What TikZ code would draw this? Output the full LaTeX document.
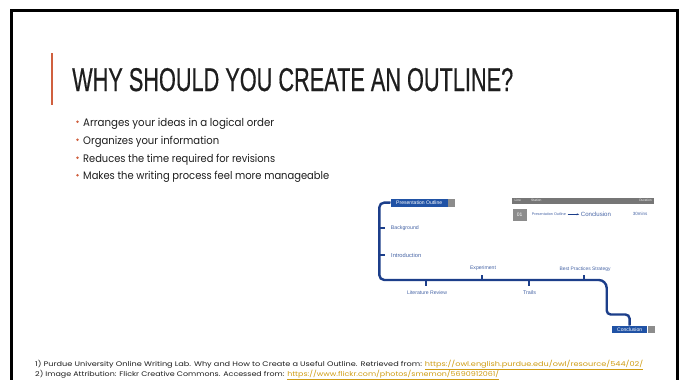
\documentclass[tikz,border=0pt]{standalone}
\usepackage{fontspec}
\setmainfont{Poppins}
\newfontfamily\titlefont[FakeBold=0.6]{Liberation Sans}
\newfontfamily\dfont{Liberation Sans}
\usetikzlibrary{arrows.meta}
\definecolor{accent}{RGB}{208,96,63}
\definecolor{ink}{RGB}{30,30,30}
\definecolor{linkc}{RGB}{207,157,20}
\definecolor{metroblue}{RGB}{28,62,138}
\definecolor{boxblue}{RGB}{32,82,165}
\definecolor{lblblue}{RGB}{70,100,165}
\definecolor{sqgrey}{RGB}{140,140,140}
\definecolor{hdrgrey}{RGB}{118,118,118}
\newcommand{\fitw}[2]{\resizebox{#1pt}{!}{#2}}
\newcommand{\fitwh}[3]{\resizebox{#1pt}{#2pt}{#3}}
\begin{document}
\begin{tikzpicture}[x=1pt,y=-1pt,
  txt/.style={inner sep=0pt,anchor=base west,text=ink},
  bul/.style={fill=accent,draw=none},
  frame/.style={draw=black,line width=3.2pt},
  bluebox/.style={fill=boxblue,draw=none,inner sep=0pt,text=white,anchor=north west},
  greysq/.style={fill=sqgrey,draw=none,inner sep=0pt,anchor=west},
  metro/.style={draw=metroblue,line width=2.4pt,rounded corners=5pt},
  tickmark/.style={draw=metroblue,line width=2pt},
  lbl/.style={inner sep=0pt,text=lblblue,font=\dfont\fontsize{5}{6}\selectfont},
  hdrtxt/.style={inner sep=0pt,text=white!90!gray,font=\dfont\fontsize{3.3}{4}\selectfont}]
\useasboundingbox (0,0) rectangle (681,380);
\fill[white] (0,0) rectangle (681,380);
% slide frame
\draw[frame] (11.5,382) -- (11.5,10.5) -- (677.5,10.5) -- (677.5,382);
% accent bar
\draw[accent,line width=1.3pt] (52,53) -- (52,105);
% title
\node[txt,text=ink] (title) at (72,91) {\resizebox{441pt}{23pt}{\titlefont WHY SHOULD YOU CREATE AN OUTLINE?}};
% bullets
\fill[bul] (77.5,121.8) circle (1.35);
\node[txt] (b1) at (83,126) {\fitwh{191}{8.3}{\fontsize{10}{12}\selectfont Arranges your ideas in a logical order}};
\fill[bul] (77.5,139.8) circle (1.35);
\node[txt] (b2) at (83,144) {\fitwh{136}{8.3}{\fontsize{10}{12}\selectfont Organizes your information}};
\fill[bul] (77.5,157.8) circle (1.35);
\node[txt] (b3) at (83,162) {\fitwh{192}{8.3}{\fontsize{10}{12}\selectfont Reduces the time required for revisions}};
\fill[bul] (77.5,175.3) circle (1.35);
\node[txt] (b4) at (83,179.5) {\fitwh{246}{8.3}{\fontsize{10}{12}\selectfont Makes the writing process feel more manageable}};
% footnotes
\node[txt] (fn1) at (35,366.7) {\fitwh{608}{6.3}{\fontsize{10}{12}\selectfont 1) Purdue University Online Writing Lab. Why and How to Create a Useful Outline. Retrieved from: \textcolor{linkc}{\underline{https://owl.english.purdue.edu/owl/resource/544/02/}}}};
\node[txt] (fn2) at (35,376) {\fitwh{464}{6.3}{\fontsize{10}{12}\selectfont 2) Image Attribution: Flickr Creative Commons. Accessed from: \textcolor{linkc}{\underline{https://www.flickr.com/photos/smemon/5690912061/}}}};
% metro diagram
\node[bluebox,minimum width=57pt,minimum height=8pt] (po) at (390.5,198.5) {\fitw{46}{\dfont\fontsize{5}{6}\selectfont Presentation Outline}};
\node[greysq,minimum width=7pt,minimum height=8pt] (posq) at (po.east) {};
\node[bluebox,minimum width=35pt,minimum height=7pt] (concl) at (612,325.5) {\fitw{25}{\dfont\fontsize{5}{6}\selectfont Conclusion}};
\node[greysq,minimum width=7pt,minimum height=7pt] (consq) at (concl.east) {};
\draw[metro] (po.west) -- (379.3,202.5) -- (379.3,280) [rounded corners=8pt] -- (606.7,280) [rounded corners=4pt] -- (606.7,314.5) -- (629.5,314.5) -- (concl.north);
% ticks
\draw[tickmark] (379.3,228.3) -- (385,228.3);
\draw[tickmark] (379.3,255) -- (385,255);
\draw[tickmark] (426,280) -- (426,286);
\draw[tickmark] (482.3,280) -- (482.3,274.5);
\draw[tickmark] (529.3,280) -- (529.3,286);
\draw[tickmark] (584,280) -- (584,274.5);
% station labels
\node[lbl,anchor=west] (bg) at (390.7,228.3) {\fitw{28}{Background}};
\node[lbl,anchor=west] (intro) at (391,255) {\fitw{30}{Introduction}};
\node[lbl] (lit) at (427,292.5) {\fitw{40}{Literature Review}};
\node[lbl] (exp) at (483,267.7) {\fitw{26}{Experiment}};
\node[lbl] (trails) at (529.5,292.7) {\fitw{13}{Trails}};
\node[lbl] (best) at (585,269) {\fitw{51}{Best Practices Strategy}};
% legend
\node[fill=hdrgrey,draw=none,inner sep=0pt,anchor=north west,minimum width=142.3pt,minimum height=6.7pt] (hdr) at (511.7,197.3) {};
\node[hdrtxt,anchor=west] (hline) at (514.5,200.6) {Line};
\node[hdrtxt,anchor=west] (hstation) at (531,200.6) {Station};
\node[hdrtxt,anchor=east] (hdur) at (652,200.6) {Duration};
\node[fill=sqgrey,draw=none,inner sep=0pt,anchor=north west,minimum width=14.4pt,minimum height=12.4pt,text=white,font=\dfont\fontsize{5}{6}\selectfont] (num) at (512.3,208.3) {01};
\node[lbl,anchor=west] (lgpo) at (531.7,214.3) {\fitw{34}{Presentation Outline}};
\node[lbl,anchor=west] (lgcon) at (580.7,214.3) {\fitw{30}{Conclusion}};
\draw[draw=metroblue,line width=0.7pt,-{Stealth[length=2.5pt]}] ([xshift=1.5pt]lgpo.east) -- ([xshift=-1.5pt]lgcon.west);
\node[lbl,anchor=west] (dur) at (632.7,214.3) {\fitw{14.6}{30mins}};
\end{tikzpicture}
\end{document}
